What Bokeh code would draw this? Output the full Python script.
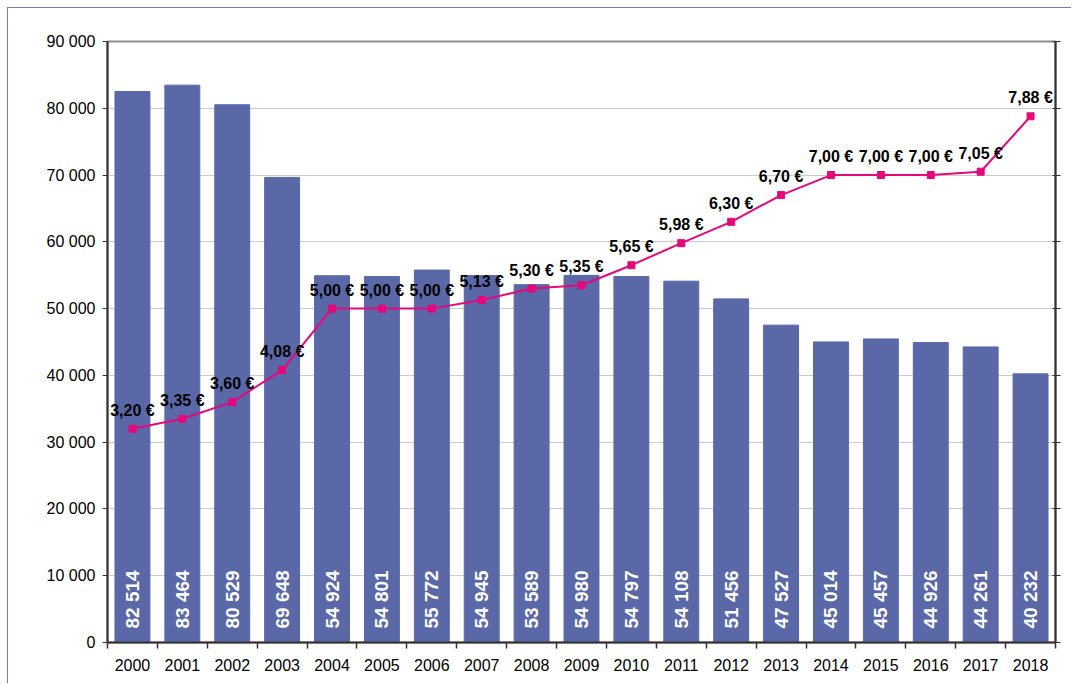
from bokeh.plotting import figure
from bokeh.models import (ColumnDataSource, Range1d, LinearAxis, FixedTicker)
from bokeh.core.properties import value
from bokeh.embed import file_html
from bokeh.resources import INLINE
import math

years = ["2000", "2001", "2002", "2003", "2004", "2005", "2006", "2007", "2008", "2009",
         "2010", "2011", "2012", "2013", "2014", "2015", "2016", "2017", "2018"]
visitors = [82514, 83464, 80529, 69648, 54924, 54801, 55772, 54945, 53589, 54980,
            54797, 54108, 51456, 47527, 45014, 45457, 44926, 44261, 40232]
prices = [3.20, 3.35, 3.60, 4.08, 5.00, 5.00, 5.00, 5.13, 5.30, 5.35,
          5.65, 5.98, 6.30, 6.70, 7.00, 7.00, 7.00, 7.05, 7.88]
y_ticks = [0, 10000, 20000, 30000, 40000, 50000, 60000, 70000, 80000, 90000]
price_ticks = [0, 1, 2, 3, 4, 5, 6, 7, 8, 9]


def fmt_thousands(v):
    s = f"{int(v):,}".replace(",", " ")
    return s


xs = list(range(len(years)))
src = ColumnDataSource(dict(
    x=xs,
    visitors=visitors,
    vlabel=[fmt_thousands(v) for v in visitors],
    zero=[0] * len(years),
    price=prices,
    plabel=[f"{p:.2f}".replace(".", ",") + " €" for p in prices],
))

FONT = "Liberation Sans"
BAR = "#5b68a8"
LINE = "#e4087a"

p = figure(width=1064, height=676, output_backend="svg", toolbar_location=None,
           x_range=Range1d(-0.5, len(years) - 0.5), y_range=Range1d(0, 90000),
           min_border_left=99, min_border_top=33, min_border_right=17, min_border_bottom=42)
p.extra_y_ranges = {"price": Range1d(0, 9)}

p.outline_line_color = "#8c8c8c"
p.outline_line_width = 2
p.background_fill_color = "white"
p.border_fill_color = "white"
p.styles = {"border-left": "1px solid #8474c4", "border-top": "1px solid #8474c4",
            "margin-left": "7px", "margin-top": "7px"}

p.vbar(x="x", top="visitors", width=0.7, color=BAR, source=src)
p.text(x="x", y="zero", text="vlabel", angle=math.pi / 2, source=src,
       text_align="left", text_baseline="middle", y_offset=-14,
       text_color="white", text_font=value(FONT), text_font_style="bold",
       text_font_size="19px")

p.line(x="x", y="price", y_range_name="price", source=src, line_color=LINE, line_width=2)
p.scatter(x="x", y="price", y_range_name="price", source=src, marker="square",
          size=7, color=LINE)
p.text(x="x", y="price", y_range_name="price", text="plabel", source=src,
       text_align="center", text_baseline="bottom", y_offset=-10,
       text_color="black", text_font=value(FONT), text_font_style="bold",
       text_font_size="16px")

# x axis
xa = p.xaxis[0]
xa.ticker = FixedTicker(ticks=xs, minor_ticks=[i - 0.5 for i in range(len(years) + 1)])
xa.major_label_overrides = {i: y for i, y in enumerate(years)}
xa.major_tick_out = 0
xa.major_tick_in = 0
xa.minor_tick_out = 6
xa.minor_tick_in = 0
xa.minor_tick_line_color = "#333333"
xa.minor_tick_line_width = 1.5
xa.axis_line_color = "#333333"
xa.axis_line_width = 2
xa.major_label_text_font = FONT
xa.major_label_text_font_size = "16px"
xa.major_label_text_color = "black"
xa.major_label_standoff = 10

# left y axis
ya = p.yaxis[0]
ya.ticker = FixedTicker(ticks=y_ticks)
ya.major_label_overrides = {t: fmt_thousands(t) for t in y_ticks}
ya.major_tick_out = 5
ya.major_tick_in = 0
ya.minor_tick_line_color = None
ya.axis_line_color = "#333333"
ya.axis_line_width = 2
ya.major_tick_line_color = "#333333"
ya.major_label_text_font = FONT
ya.major_label_text_font_size = "16px"
ya.major_label_text_color = "black"
ya.major_label_standoff = 7

# right axis (ticks only, no labels)
ra = LinearAxis(y_range_name="price", ticker=FixedTicker(ticks=price_ticks))
ra.major_tick_out = 5
ra.major_tick_in = 3
ra.minor_tick_line_color = None
ra.axis_line_color = "#333333"
ra.axis_line_width = 2
ra.major_tick_line_color = "#333333"
ra.major_label_text_color = None
ra.major_label_text_font_size = "1px"
ra.major_label_standoff = 0
p.add_layout(ra, "right")

p.xgrid.grid_line_color = None
p.ygrid.ticker = FixedTicker(ticks=y_ticks)
p.ygrid.grid_line_color = "#cccccc"
p.ygrid.grid_line_width = 1

open("out.html", "w").write(file_html(p, INLINE))
